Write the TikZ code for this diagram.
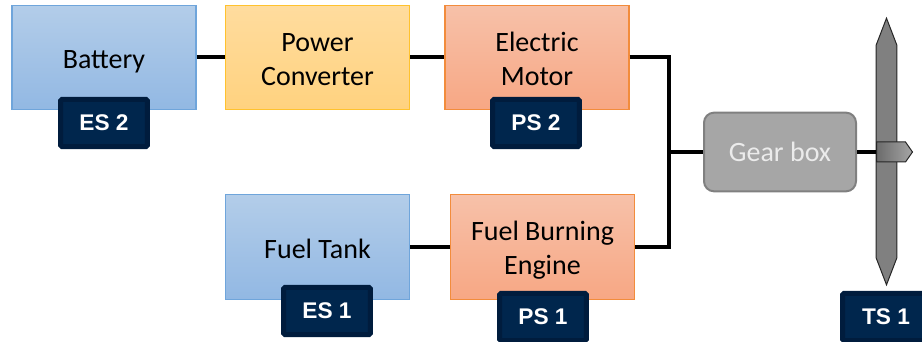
\documentclass[tikz,border=0pt]{standalone}
\usepackage{fontspec}
\setmainfont{Carlito}
\newfontfamily\tagfont{Liberation Sans}
\usetikzlibrary{shapes.arrows, shapes.symbols}

\newcommand{\topgap}[1]{\rule{0pt}{#1}}

\definecolor{blue_top}{HTML}{B3CDE9}
\definecolor{blue_bottom}{HTML}{92B8E3}
\definecolor{blue_line}{HTML}{6FA5DB}
\definecolor{yellow_top}{HTML}{FFDC9E}
\definecolor{yellow_bottom}{HTML}{FFD27F}
\definecolor{yellow_line}{HTML}{FFC22E}
\definecolor{orange_top}{HTML}{F7C1A9}
\definecolor{orange_bottom}{HTML}{F7A784}
\definecolor{orange_line}{HTML}{F28C3C}
\definecolor{tag_fill}{HTML}{00264D}
\definecolor{tag_line}{HTML}{001C3D}

\begin{document}
\begin{tikzpicture}[
x=0.75pt, y=-0.75pt,
font=\fontsize{21pt}{25.5pt}\selectfont,
base_square/.style={rectangle, align=center, inner sep=0pt, line width=0.9pt, minimum width=138pt, minimum height=78.5pt},
blue_square/.style={base_square, draw=blue_line, top color=blue_top, bottom color=blue_bottom},
yellow_square/.style={base_square, draw=yellow_line, top color=yellow_top, bottom color=yellow_bottom},
orange_square/.style={base_square, draw=orange_line, top color=orange_top, bottom color=orange_bottom},
gear_square/.style={rectangle, rounded corners=7.5pt, draw=black!50, fill=black!35, text=white!92!black, line width=1.5pt, minimum width=114pt, minimum height=59pt, inner sep=0pt},
tag_square/.style={rectangle, rounded corners=1pt, draw=tag_line, fill=tag_fill, text=white, line width=3.75pt, minimum width=65pt, minimum height=35.5pt, inner sep=0pt, font=\tagfont\fontsize{17pt}{20pt}\selectfont\bfseries},
shaft_arrow/.style={double arrow, double arrow head extend=0pt, double arrow head indent=0pt, double arrow tip angle=42, rotate=90, draw=black!85, line width=0.75pt, left color=black!50, middle color=black!36, right color=black!50, minimum width=15.5pt, minimum height=200pt, inner sep=0pt},
hub_arrow/.style={signal, signal to=east, signal pointer angle=110, draw=black!85, line width=0.75pt, left color=black!58, right color=black!35, minimum width=27pt, minimum height=15pt, inner sep=0pt},
out_line/.style={line width=3pt}
]

\useasboundingbox (0,0) rectangle (922,342);

% boxes
\node[blue_square,text depth=0pt](battery) at (104,57.5) {\topgap{16.5pt}Battery};
\node[yellow_square](power_converter) at (317.5,57.5) {\topgap{17pt}Power\\Converter};
\node[orange_square](electric_motor) at (537,57.5) {\topgap{16pt}Electric\\Motor};
\node[blue_square](fuel_tank) at (317.5,247) {\topgap{17pt}Fuel Tank};
\node[orange_square,text depth=0pt](fuel_engine) at (542.5,247) {\topgap{15.5pt}Fuel Burning\\Engine};
\node[gear_square](gear_box) at (780,152) {Gear box};

% propeller
\node[shaft_arrow](shaft) at (886.5,151.5) {};
\node[hub_arrow,anchor=west](hub) at (876,152) {};

% tags
\node[tag_square](es_two) at (104,123) {ES 2};
\node[tag_square](ps_two) at (536,123) {PS 2};
\node[tag_square](es_one) at (327,311) {ES 1};
\node[tag_square](ps_one) at (543,317) {PS 1};
\node[tag_square](ts_one) at (886,317) {TS 1};

\coordinate (bus) at (669,152);

% connections
\draw[out_line](battery) -- (power_converter);
\draw[out_line](power_converter) -- (electric_motor);
\draw[out_line](fuel_tank) -- (fuel_engine);
\draw[out_line](electric_motor.east) -| (bus);
\draw[out_line](fuel_engine.east) -| (bus);
\draw[out_line](bus) -- (gear_box);
\draw[out_line](gear_box) -- (hub);

\end{tikzpicture}
\end{document}
